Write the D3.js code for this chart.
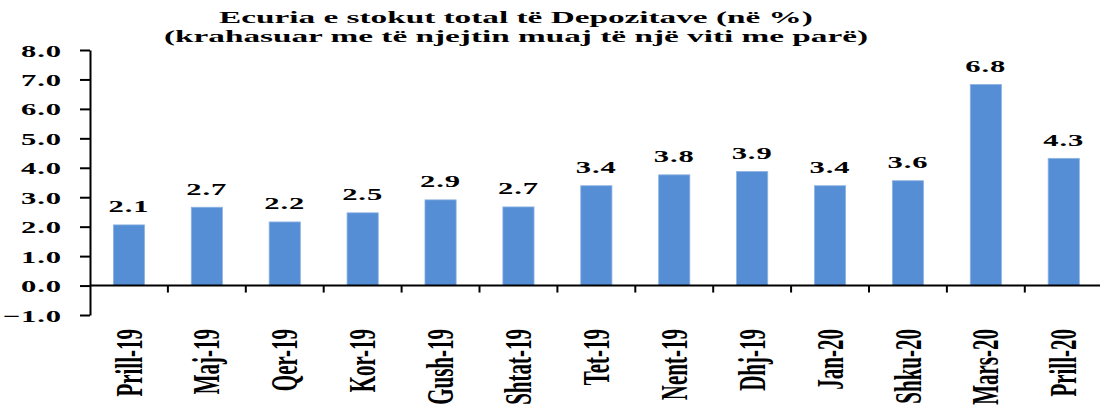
<!DOCTYPE html>
<html>
<head>
<meta charset="utf-8">
<script src="https://cdn.jsdelivr.net/npm/d3@7"></script>
<style>
  html, body { margin: 0; padding: 0; background: #fff; }
  svg { display: block; }
  text { font-family: "Liberation Serif", "Times New Roman", serif; font-weight: bold; fill: #000; }
</style>
</head>
<body>
<svg id="chart" width="1100" height="407"></svg>
<script>
// Annual growth of total deposit stock, by month
const categories = ["Prill-19", "Maj-19", "Qer-19", "Kor-19", "Gush-19", "Shtat-19", "Tet-19",
                    "Nent-19", "Dhj-19", "Jan-20", "Shku-20", "Mars-20", "Prill-20"];
const values = [2.06, 2.66, 2.16, 2.47, 2.91, 2.67, 3.39, 3.76, 3.87, 3.39, 3.56, 6.83, 4.32];
const yTicks = [-1, 0, 1, 2, 3, 4, 5, 6, 7, 8];
const titleLines = ["Ecuria e stokut total të Depozitave (në %)",
                    "(krahasuar me të njejtin muaj të një viti me parë)"];

const SX = 1.8;            // horizontal glyph stretch used for chart text
const SX_TITLE = 1.98;     // a little wider for the title
const fmt = d3.format(".1f");

const svg = d3.select("#chart");
const margin = { left: 90, top: 50, bottom: 315 };
const plotRight = 90 + 13 * 77.9;

const x = d3.scaleBand().domain(categories).range([margin.left, plotRight]).paddingInner(0.6).paddingOuter(0.3);
const xb = d3.scaleBand().domain(categories).range([margin.left, plotRight]);
const y = d3.scaleLinear().domain([-1, 8]).range([margin.bottom, margin.top]);

// Title
const title = svg.append("g");
titleLines.forEach((t, i) => {
  title.append("text")
    .attr("transform", `translate(516,${23 + i * 19}) scale(${SX_TITLE},1)`)
    .attr("text-anchor", "middle")
    .style("font-size", "16.8px")
    .text(t);
});

// Bars
svg.append("g").selectAll("rect")
  .data(values)
  .join("rect")
  .attr("x", (d, i) => x(categories[i]))
  .attr("width", x.bandwidth())
  .attr("y", d => y(Math.max(0, d)))
  .attr("height", d => Math.abs(y(d) - y(0)))
  .attr("fill", "#558ED5")
  .attr("stroke", "#8DB3E2")
  .attr("stroke-width", 0.8);

// Value labels
svg.append("g").selectAll("text")
  .data(values)
  .join("text")
  .attr("transform", (d, i) => `translate(${x(categories[i]) + x.bandwidth() / 2},${y(d) - 12.5}) scale(${SX},1)`)
  .attr("text-anchor", "middle")
  .style("font-size", "17px")
  .style("letter-spacing", "0.5px")
  .text(d => fmt(d));

// Y axis
const yAxis = svg.append("g")
  .attr("transform", `translate(${margin.left},0)`)
  .call(d3.axisLeft(y).tickValues(yTicks).tickSize(10).tickSizeOuter(0).tickFormat(fmt));
yAxis.select(".domain").attr("stroke", "#000").attr("stroke-width", 2);
yAxis.selectAll(".tick line").attr("stroke", "#000").attr("stroke-width", 2);
yAxis.selectAll(".tick text")
  .attr("x", null).attr("dy", null)
  .attr("transform", `translate(-28,6) scale(${SX},1)`)
  .attr("text-anchor", "end")
  .style("font-size", "17px")
  .style("font-family", "Liberation Serif, serif")
  .style("letter-spacing", "0.5px");

// X axis along zero, with ticks between categories
const xAxisG = svg.append("g").attr("transform", `translate(0,${y(0)})`);
xAxisG.append("line")
  .attr("x1", margin.left).attr("x2", plotRight)
  .attr("stroke", "#000").attr("stroke-width", 2);
xAxisG.selectAll("line.tk")
  .data(categories.slice(1))
  .join("line")
  .attr("class", "tk")
  .attr("x1", d => xb(d)).attr("x2", d => xb(d))
  .attr("y1", 0).attr("y2", 7)
  .attr("stroke", "#000").attr("stroke-width", 2);

// Category labels, rotated
svg.append("g").selectAll("text")
  .data(categories)
  .join("text")
  .attr("transform", d => `translate(${xb(d) + xb.bandwidth() / 2},329) scale(${SX},1) rotate(-90)`)
  .attr("text-anchor", "end")
  .attr("dy", "7")
  .style("font-size", "21px")
  .text(d => d);
</script>
</body>
</html>
